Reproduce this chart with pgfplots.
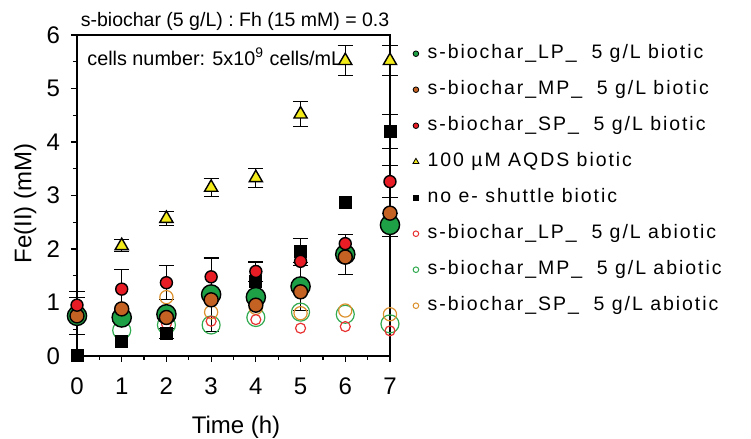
\documentclass[border=0pt]{standalone}
\usepackage{fontspec}
\setmainfont{Liberation Sans}
\newfontfamily\legfont{Liberation Sans}[LetterSpace=10]
\usepackage{pgfplots}
\pgfplotsset{compat=1.18}
\definecolor{cLP}{RGB}{30,160,70}
\definecolor{cMP}{RGB}{196,98,36}
\definecolor{cSP}{RGB}{232,28,36}
\definecolor{cAQ}{RGB}{243,235,25}
\definecolor{oLP}{RGB}{232,50,50}
\definecolor{oMP}{RGB}{50,170,80}
\definecolor{oSP}{RGB}{220,145,45}
\begin{document}
\begin{tikzpicture}
\begin{axis}[
  at={(0pt,0pt)}, anchor=south west,
  scale only axis, width=156.5pt, height=160.5pt,
  xmin=0, xmax=7, ymin=0, ymax=6,
  xtick={0,...,7}, ytick={0,...,6},
  minor x tick num=1, minor y tick num=1,
  tick align=outside, xtick pos=left, ytick pos=left,
  major tick length=3pt, minor tick length=2pt,
  every tick/.style={black, line width=0.6pt},
  axis line style={line width=0.9pt},
  clip=false,
  /pgf/number format/assume math mode=true,
  ticklabel style={font=\fontsize{12}{14}\selectfont},
  xticklabel style={yshift=-4.5pt},
  yticklabel style={xshift=-2pt},
  xlabel={Time (h)}, ylabel={Fe(II) (mM)},
  label style={font=\fontsize{12}{14}\selectfont},
  xlabel style={at={(axis description cs:0.508,0)}, anchor=center, yshift=-35.5pt},
  ylabel style={at={(axis description cs:-0.166,0.475)}, anchor=center},
  legend style={at={(axis description cs:1,1)}, anchor=north west, xshift=11.3pt, yshift=-4.3pt,
    draw=none, fill=none, font=\legfont\fontsize{9.75}{11}\selectfont,
    row sep=8.3pt, column sep=4.4pt, inner sep=0pt,
    nodes={inner sep=0pt, text height=7.3pt, text depth=2.4pt}},
  legend cell align=left,
  legend image code/.code={\draw plot coordinates {(0pt,0pt)};},
]
% error bars
\addplot[forget plot, black, only marks, mark=*, mark size=0pt,
  error bars/.cd, y dir=both, y explicit, error mark=|,
  error bar style={black, line width=0.45pt},
  error mark options={black, mark size=3.8pt, line width=0.45pt}]
  coordinates {
  (1,2.06) +- (0,0.11) (2,2.57) +- (0,0.13) (3,3.15) +- (0,0.16) (4,3.33) +- (0,0.18)
  (5,4.52) +- (0,0.23) (6,5.52) +- (0,0.28) (7,5.52) +- (0,0.28)
  (0,0.95) +- (0,0.25) (1,1.25) +- (0,0.37) (2,1.37) +- (0,0.32) (3,1.48) +- (0,0.35) (4,1.58) +- (0,0.18) (7,3.26) +- (0,0.3)
  (2,0.42) +- (0,0.1) (4,1.4) +- (0,0.35) (5,1.95) +- (0,0.25) (7,4.2) +- (0,0.32)
  (0,0.75) +- (0,0.35) (3,1.15) +- (0,0.7) (5,1.3) +- (0,0.45) (6,1.9) +- (0,0.37) (7,2.45) +- (0,0.22)
  };
% abiotic open circles
\addplot[forget plot, only marks, mark=o, mark size=4.5pt, oMP, line width=0.6pt]
  coordinates {(0,0.75)(1,0.48)(2,0.58)(3,0.58)(4,0.72)(5,0.82)(6,0.78)(7,0.6)};
\addplot[forget plot, only marks, mark=o, mark size=3.3pt, oSP, line width=0.6pt]
  coordinates {(0,0.85)(1,0.88)(2,1.1)(3,0.82)(4,0.9)(5,0.8)(6,0.85)(7,0.78)};
\addplot[forget plot, only marks, mark=o, mark size=2.5pt, oLP, line width=0.6pt]
  coordinates {(0,0.9)(1,0.72)(2,0.6)(3,0.65)(4,0.68)(5,0.52)(6,0.55)(7,0.47)};
% no shuttle
\addplot[forget plot, only marks, mark=square*, mark size=3pt, black]
  coordinates {(0,0.02)(1,0.28)(2,0.42)(3,1.1)(4,1.4)(5,1.95)(6,2.88)(7,4.2)};
% LP biotic
\addplot[forget plot, only marks, mark=*, mark size=4.8pt, draw=black, fill=cLP, line width=0.7pt]
  coordinates {(0,0.75)(1,0.72)(2,0.78)(3,1.15)(4,1.1)(5,1.3)(6,1.9)(7,2.45)};
% MP biotic
\addplot[forget plot, only marks, mark=*, mark size=3.5pt, draw=black, fill=cMP, line width=0.7pt]
  coordinates {(0,0.75)(1,0.88)(2,0.72)(3,1.05)(4,0.95)(5,1.2)(6,1.85)(7,2.67)};
% SP biotic
\addplot[forget plot, only marks, mark=*, mark size=3pt, draw=black, fill=cSP, line width=0.7pt]
  coordinates {(0,0.95)(1,1.25)(2,1.37)(3,1.48)(4,1.58)(5,1.77)(6,2.1)(7,3.26)};
% AQDS
\addplot[forget plot, only marks, mark=triangle*, mark size=3.8pt, draw=black, fill=cAQ, line width=0.7pt]
  coordinates {(1,2.06)(2,2.57)(3,3.15)(4,3.33)(5,4.52)(6,5.52)(7,5.52)};

% legend
\addlegendimage{only marks, mark=*, mark size=1.4pt, draw=black, fill=cLP, line width=0.4pt}
\addlegendentry{s-biochar\_LP\_~ 5 g/L biotic}
\addlegendimage{only marks, mark=*, mark size=1.4pt, draw=black, fill=cMP, line width=0.4pt}
\addlegendentry{s-biochar\_MP\_~ 5 g/L biotic}
\addlegendimage{only marks, mark=*, mark size=1.4pt, draw=black, fill=cSP, line width=0.4pt}
\addlegendentry{s-biochar\_SP\_~ 5 g/L biotic}
\addlegendimage{only marks, mark=triangle*, mark size=1.7pt, draw=black, fill=cAQ, line width=0.4pt}
\addlegendentry{100 µM AQDS biotic}
\addlegendimage{only marks, mark=square*, mark size=1.3pt, black}
\addlegendentry{no e- shuttle biotic}
\addlegendimage{only marks, mark=o, mark size=1.4pt, oLP, line width=0.5pt}
\addlegendentry{s-biochar\_LP\_~ 5 g/L abiotic}
\addlegendimage{only marks, mark=o, mark size=1.4pt, oMP, line width=0.5pt}
\addlegendentry{s-biochar\_MP\_~ 5 g/L abiotic}
\addlegendimage{only marks, mark=o, mark size=1.4pt, oSP, line width=0.5pt}
\addlegendentry{s-biochar\_SP\_~ 5 g/L abiotic}

\node[anchor=base, font=\fontsize{9.75}{11}\selectfont] at ([yshift=4.5pt]axis description cs:0.505,1) {s-biochar (5 g/L) : Fh (15 mM) = 0.3};
\node[anchor=base west, inner sep=0pt, font=\fontsize{9.9}{11}\selectfont] at ([xshift=5pt,yshift=-15pt]axis description cs:0,1) {cells number: 5x10\textsuperscript{9} cells/mL};
\end{axis}
\pgfresetboundingbox
\path (-38.5pt,-41.5pt) rectangle (337pt,178pt);
\end{tikzpicture}
\end{document}
